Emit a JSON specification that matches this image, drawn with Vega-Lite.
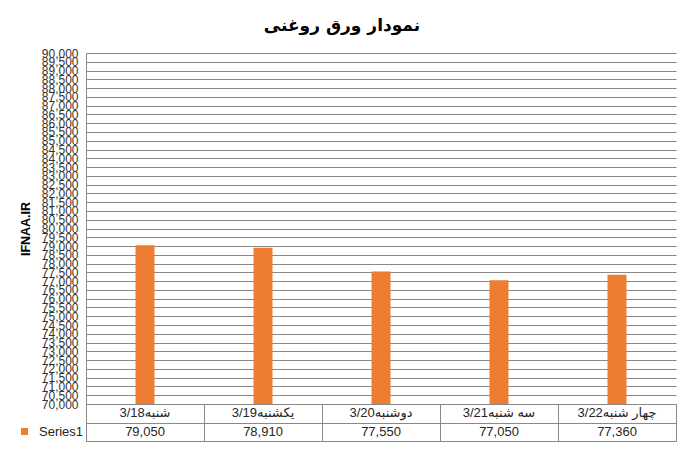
{
  "$schema": "https://vega.github.io/schema/vega-lite/v6.json",
  "description": "Oil sheet price by day, bar chart with data table below.",
  "padding": {"left": 17, "top": 17, "right": 12, "bottom": 7},
  "title": {
    "text": "نمودار ورق روغنی",
    "font": "DejaVu Sans",
    "fontSize": 17,
    "fontWeight": "bold",
    "color": "#000",
    "anchor": "middle",
    "offset": 12,
    "dx": -5
  },
  "data": {
    "values": [
      {"day": "3/18شنبه", "price": 79050},
      {"day": "3/19یکشنبه", "price": 78910},
      {"day": "3/20دوشنبه", "price": 77550},
      {"day": "3/21سه شنبه", "price": 77050},
      {"day": "3/22چهار شنبه", "price": 77360}
    ]
  },
  "bounds": "flush",
  "spacing": 0,
  "resolve": {
    "scale": {"x": "independent", "color": "independent"},
    "axis": {"x": "independent"},
    "legend": {"color": "independent"}
  },
  "vconcat": [
    {
      "width": 590,
      "height": 351,
      "mark": {"type": "bar", "color": "#ED7D31", "width": 19, "clip": true},
      "encoding": {
        "x": {
          "field": "day",
          "type": "nominal",
          "sort": null,
          "scale": {"paddingInner": 0, "paddingOuter": 0},
          "axis": null
        },
        "y": {
          "field": "price",
          "type": "quantitative",
          "scale": {"domain": [70000, 90000], "zero": false, "nice": false},
          "axis": {
            "title": "IFNAA.IR",
            "titleFont": "Liberation Sans",
            "titleFontSize": 12.5,
            "titleFontWeight": "bold",
            "titleColor": "#000",
            "titlePadding": 9,
            "values": [70000, 70500, 71000, 71500, 72000, 72500, 73000, 73500, 74000, 74500, 75000, 75500, 76000, 76500, 77000, 77500, 78000, 78500, 79000, 79500, 80000, 80500, 81000, 81500, 82000, 82500, 83000, 83500, 84000, 84500, 85000, 85500, 86000, 86500, 87000, 87500, 88000, 88500, 89000, 89500, 90000],
            "format": ",d",
            "labelFont": "Liberation Sans",
            "labelFontSize": 12,
            "labelColor": "#333",
            "labelPadding": 8,
            "labelOverlap": false,
            "labelFlush": false,
            "labelBound": false,
            "ticks": false,
            "tickSize": 0,
            "grid": true,
            "gridColor": "#898989",
            "gridOpacity": 1,
            "domainColor": "#898989"
          }
        }
      }
    },
    {
      "width": 590,
      "height": 37,
      "view": {"stroke": "#898989"},
      "encoding": {
        "x": {
          "field": "day",
          "type": "nominal",
          "sort": null,
          "scale": {"paddingInner": 0, "paddingOuter": 0},
          "axis": {"labels": false, "ticks": false, "domain": false, "grid": true, "tickBand": "extent", "gridColor": "#898989", "gridOpacity": 1, "title": null}
        }
      },
      "layer": [
        {
          "mark": {"type": "text", "fontSize": 13, "color": "#262626", "font": "Liberation Sans, DejaVu Sans"},
          "encoding": {
            "text": {"field": "day"},
            "y": {
              "datum": "a",
              "type": "nominal",
              "scale": {"type": "band", "domain": ["a", "b"], "paddingInner": 0, "paddingOuter": 0},
              "axis": {"labels": false, "ticks": false, "domain": false, "grid": true, "tickBand": "extent", "gridColor": "#898989", "gridOpacity": 1, "title": null}
            }
          }
        },
        {
          "mark": {"type": "text", "fontSize": 13, "color": "#262626", "font": "Liberation Sans"},
          "encoding": {
            "text": {"field": "price", "format": ","},
            "y": {"datum": "b", "type": "nominal"}
          }
        },
        {
          "mark": {"type": "square", "opacity": 0},
          "encoding": {
            "y": {"datum": "b", "type": "nominal"},
            "color": {
              "datum": "Series1",
              "type": "nominal",
              "scale": {"range": ["#ED7D31"]},
              "legend": {
                "orient": "left",
                "title": " ",
                "titleFontSize": 12,
                "titlePadding": 9,
                "symbolType": "square",
                "symbolSize": 49,
                "symbolOpacity": 1,
                "symbolStrokeWidth": 0,
                "labelFont": "Liberation Sans",
                "labelFontSize": 13,
                "labelColor": "#262626",
                "labelOffset": 8,
                "offset": 2,
                "padding": 0
              }
            }
          }
        }
      ]
    }
  ],
  "config": {"view": {"stroke": null}}
}
